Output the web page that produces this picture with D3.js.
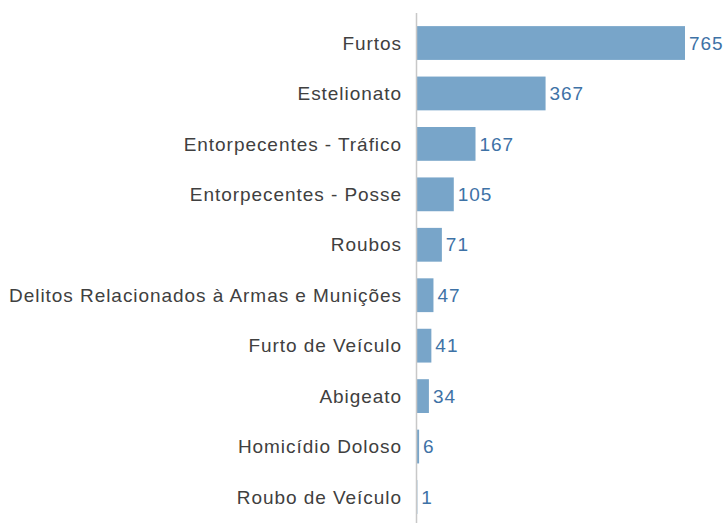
<!DOCTYPE html>
<html>
<head>
<meta charset="utf-8">
<script src="https://cdn.jsdelivr.net/npm/d3@7"></script>
<style>
  html, body { margin: 0; padding: 0; background: #fff; }
  svg { display: block; }
</style>
</head>
<body>
<svg id="chart" width="726" height="523"></svg>
<script>
const categories = [
  "Furtos",
  "Estelionato",
  "Entorpecentes - Tráfico",
  "Entorpecentes - Posse",
  "Roubos",
  "Delitos Relacionados à Armas e Munições",
  "Furto de Veículo",
  "Abigeato",
  "Homicídio Doloso",
  "Roubo de Veículo"
];
const values = [765, 367, 167, 105, 71, 47, 41, 34, 6, 1];

const svg = d3.select("#chart");
const x0 = 417;
const x = d3.scaleLinear().domain([0, 765]).range([x0, 685]);
const y = d3.scaleBand().domain(categories).range([17.8, 522.2]).paddingInner(0.33).paddingOuter(0.165);

// bars
svg.selectAll("rect.bar")
  .data(values)
  .enter().append("rect")
  .attr("class", "bar")
  .attr("x", x0)
  .attr("y", (d, i) => y(categories[i]))
  .attr("width", d => x(d) - x0)
  .attr("height", y.bandwidth())
  .attr("fill", "#78a5c9");

// vertical axis line
svg.append("line")
  .attr("x1", 416.5).attr("x2", 416.5)
  .attr("y1", 13).attr("y2", 523)
  .attr("stroke", "#c8c8c8").attr("stroke-width", 1.5);

// category labels
svg.selectAll("text.cat")
  .data(categories)
  .enter().append("text")
  .attr("class", "cat")
  .attr("x", 402)
  .attr("y", d => y(d) + y.bandwidth() / 2)
  .attr("dy", "0.35em")
  .attr("text-anchor", "end")
  .attr("font-family", "Liberation Sans, Arial, sans-serif")
  .attr("font-size", 19)
  .attr("letter-spacing", 0.95)
  .attr("fill", "#404040")
  .text(d => d);

// value labels
svg.selectAll("text.val")
  .data(values)
  .enter().append("text")
  .attr("class", "val")
  .attr("x", d => x(d) + 4)
  .attr("y", (d, i) => y(categories[i]) + y.bandwidth() / 2)
  .attr("dy", "0.35em")
  .attr("font-family", "Liberation Sans, Arial, sans-serif")
  .attr("font-size", 19)
  .attr("letter-spacing", 0.95)
  .attr("fill", "#3e72a6")
  .text(d => d);
</script>
</body>
</html>
